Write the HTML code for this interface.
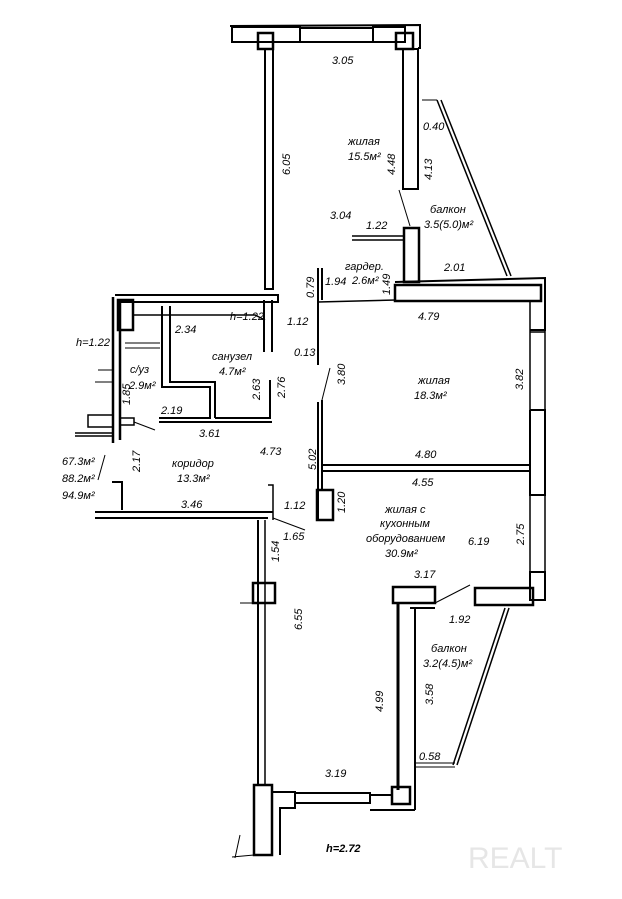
<!DOCTYPE html>
<html><head><meta charset="utf-8"><style>
html,body{margin:0;padding:0;background:#fff;}
svg{display:block}
text{font-family:"Liberation Sans",sans-serif;font-style:italic;font-size:11px;fill:#000;}
</style></head><body>
<svg width="622" height="899" viewBox="0 0 622 899" xmlns="http://www.w3.org/2000/svg">
<g fill="none" stroke="#000" stroke-width="2">
<!-- top room -->
<path d="M230 26 L420 25 L420 48 L418 48" />
<rect x="232" y="27" width="68" height="15"/>
<rect x="373" y="27" width="32" height="15"/>
<line x1="300" y1="28" x2="373" y2="28"/><line x1="300" y1="42" x2="373" y2="42"/>
<rect x="258" y="33" width="15" height="16" stroke-width="2.5"/>
<rect x="396" y="33" width="17" height="16" stroke-width="2.5"/>
<rect x="265" y="49" width="8" height="240"/>
<rect x="403" y="49" width="15" height="140"/>
<line x1="399" y1="190" x2="410" y2="226" stroke-width="1"/>
<!-- balcony glass top -->
<line x1="437" y1="100" x2="507" y2="276" stroke-width="1.5"/>
<line x1="441" y1="100" x2="511" y2="276" stroke-width="1.5"/>
<line x1="422" y1="100" x2="437" y2="100" stroke-width="1"/>
<!-- garderob -->
<rect x="404" y="228" width="15" height="54" stroke-width="2.5"/>
<path d="M352 240 L404 240 M352 236 L404 236" stroke-width="1.5"/>
<path d="M395 282 L545 278 L545 330 L530 330" />
<rect x="395" y="285" width="146" height="16" stroke-width="2.5"/>
<path d="M318 268 L318 365 M322 268 L322 300" />
<line x1="318" y1="302" x2="396" y2="300" stroke-width="1.5"/>
<!-- right outer wall -->
<path d="M530 300 L530 332 L545 332 M545 330 L545 410 M530 332 L530 410" stroke-width="1.5"/>
<path d="M530 410 L545 410 L545 495 L530 495 L530 410" />
<path d="M545 495 L545 572 M530 495 L530 572" stroke-width="1.5"/>
<path d="M530 572 L545 572 L545 600 L530 600 Z"/>
<!-- partition -->
<line x1="322" y1="465" x2="530" y2="465"/><line x1="322" y1="471" x2="530" y2="471"/>
<path d="M318 402 L318 520 M322 400 L322 490" />
<rect x="317" y="490" width="16" height="30" stroke-width="2.5"/>
<line x1="322" y1="400" x2="330" y2="368" stroke-width="1"/>
<!-- bottom right blocks -->
<rect x="393" y="587" width="42" height="16" stroke-width="2.5"/>
<rect x="475" y="588" width="58" height="17" stroke-width="2.5"/>
<line x1="435" y1="603" x2="470" y2="585" stroke-width="1"/>
<line x1="398" y1="603" x2="398" y2="790" stroke-width="3"/>
<path d="M410 608 L435 608 M415 608 L415 810" />
<line x1="505" y1="608" x2="453" y2="765" stroke-width="1.5"/>
<line x1="509" y1="608" x2="457" y2="765" stroke-width="1.5"/>
<line x1="415" y1="763" x2="455" y2="763" stroke-width="1"/>
<line x1="415" y1="767" x2="455" y2="767" stroke-width="1"/>
<!-- bottom wall -->
<path d="M272 792 L295 792 L295 808 L280 808 L280 855" />
<rect x="295" y="793" width="75" height="10"/>
<path d="M370 795 L393 795 M370 810 L415 810" />
<rect x="392" y="787" width="18" height="17" stroke-width="2.5"/>
<rect x="254" y="785" width="18" height="70" stroke-width="2.5"/>
<path d="M254 855 L232 857 M240 835 L235 858" stroke-width="1"/>
<!-- left bottom wall -->
<line x1="258" y1="520" x2="258" y2="785"/>
<line x1="265" y1="520" x2="265" y2="785" stroke-width="1.5"/>
<rect x="253" y="583" width="22" height="20" stroke-width="2.5"/>
<line x1="240" y1="603" x2="253" y2="603" stroke-width="1"/>
<!-- left area -->
<path d="M115 295 L278 295 L278 302 L120 302" />
<path d="M113 297 L113 443 M120 300 L120 440" stroke-width="2.5"/>
<rect x="118" y="300" width="15" height="30" stroke-width="2.5"/>
<path d="M133 315 L255 315 L265 320" stroke-width="1.5"/>
<path d="M162 306 L162 387 L210 387 L210 418 L159 418 M170 306 L170 382 L215 382 L215 418" />
<path d="M215 418 L270 418 L270 380 M159 422 L272 422" />
<path d="M264 300 L264 352 M272 300 L272 352" />
<path d="M125 343 L160 343 M125 348 L160 348" stroke-width="1"/>
<path d="M88 427 L113 427 L113 415 L88 415 Z M75 433 L113 433 M75 436 L113 436" stroke-width="1.5"/>
<path d="M120 418 L134 418 L134 425 L120 425" stroke-width="1.5"/>
<line x1="134" y1="422" x2="155" y2="430" stroke-width="1"/>
<path d="M112 482 L122 482 L122 510 M95 512 L273 512 M95 518 L268 518" stroke-width="2"/>
<path d="M268 485 L273 485 L273 520" stroke-width="1.5"/>
<line x1="273" y1="518" x2="305" y2="530" stroke-width="1"/>
<path d="M98 370 L113 370 M95 382 L113 382" stroke-width="1"/>
<path d="M105 455 L98 480" stroke-width="1"/>
</g>
<text x="332" y="64">3.05</text>
<text x="348" y="145">жилая</text>
<text x="348" y="160">15.5м²</text>
<text x="290" y="175" transform="rotate(-90 290 175)">6.05</text>
<text x="395" y="175" transform="rotate(-90 395 175)">4.48</text>
<text x="432" y="180" transform="rotate(-90 432 180)">4.13</text>
<text x="423" y="130">0.40</text>
<text x="330" y="219">3.04</text>
<text x="366" y="229">1.22</text>
<text x="430" y="213">балкон</text>
<text x="424" y="228">3.5(5.0)м²</text>
<text x="345" y="270">гардер.</text>
<text x="352" y="284">2.6м²</text>
<text x="325" y="285">1.94</text>
<text x="314" y="298" transform="rotate(-90 314 298)">0.79</text>
<text x="390" y="295" transform="rotate(-90 390 295)">1.49</text>
<text x="444" y="271">2.01</text>
<text x="418" y="320">4.79</text>
<text x="287" y="325">1.12</text>
<text x="294" y="356">0.13</text>
<text x="418" y="384">жилая</text>
<text x="414" y="399">18.3м²</text>
<text x="345" y="385" transform="rotate(-90 345 385)">3.80</text>
<text x="523" y="390" transform="rotate(-90 523 390)">3.82</text>
<text x="415" y="458">4.80</text>
<text x="316" y="470" transform="rotate(-90 316 470)">5.02</text>
<text x="412" y="486">4.55</text>
<text x="345" y="513" transform="rotate(-90 345 513)">1.20</text>
<text x="385" y="513">жилая с</text>
<text x="380" y="527">кухонным</text>
<text x="366" y="542">оборудованием</text>
<text x="385" y="557">30.9м²</text>
<text x="468" y="545">6.19</text>
<text x="524" y="545" transform="rotate(-90 524 545)">2.75</text>
<text x="414" y="578">3.17</text>
<text x="449" y="623">1.92</text>
<text x="431" y="652">балкон</text>
<text x="423" y="667">3.2(4.5)м²</text>
<text x="433" y="705" transform="rotate(-90 433 705)">3.58</text>
<text x="383" y="712" transform="rotate(-90 383 712)">4.99</text>
<text x="419" y="760">0.58</text>
<text x="325" y="777">3.19</text>
<text x="302" y="630" transform="rotate(-90 302 630)">6.55</text>
<text x="279" y="562" transform="rotate(-90 279 562)">1.54</text>
<text x="283" y="540">1.65</text>
<text x="284" y="509">1.12</text>
<text x="181" y="508">3.46</text>
<text x="172" y="467">коридор</text>
<text x="177" y="482">13.3м²</text>
<text x="260" y="455">4.73</text>
<text x="199" y="437">3.61</text>
<text x="140" y="472" transform="rotate(-90 140 472)">2.17</text>
<text x="161" y="414">2.19</text>
<text x="130" y="405" transform="rotate(-90 130 405)">1.85</text>
<text x="130" y="373">с/уз</text>
<text x="129" y="389">2.9м²</text>
<text x="212" y="360">санузел</text>
<text x="219" y="375">4.7м²</text>
<text x="175" y="333">2.34</text>
<text x="230" y="320">h=1.22</text>
<text x="76" y="346">h=1.22</text>
<text x="260" y="400" transform="rotate(-90 260 400)">2.63</text>
<text x="285" y="398" transform="rotate(-90 285 398)">2.76</text>
<text x="62" y="465">67.3м²</text>
<text x="62" y="482">88.2м²</text>
<text x="62" y="499">94.9м²</text>
<text x="326" y="852" style="font-weight:bold">h=2.72</text>
<text x="468" y="868" style="font-style:normal;font-size:30px;fill:#e6e6e6">REALT</text>
</svg>
</body></html>
